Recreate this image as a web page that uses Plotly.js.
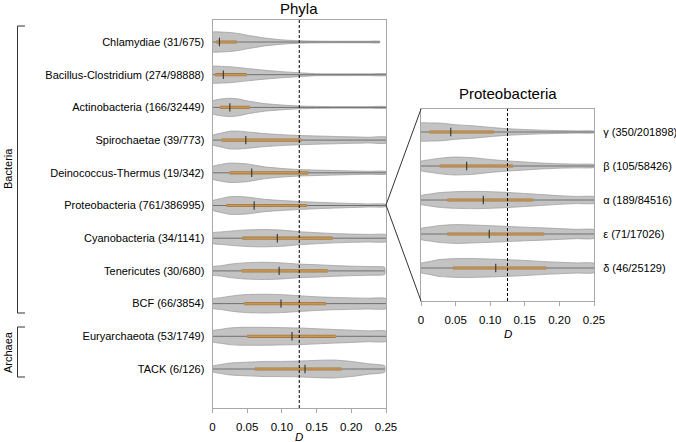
<!DOCTYPE html>
<html>
<head>
<meta charset="utf-8">
<script src="https://cdn.plot.ly/plotly-3.0.1.min.js"></script>
<style>html,body{margin:0;padding:0;background:#fff;}#chart{width:676px;height:442px;}</style>
</head>
<body>
<div id="chart"></div>
<script>
// ---------- DATA ----------
// D grid at which violin densities were read (relative density, same scale for all)
const dGrid = [0, 0.0125, 0.025, 0.0375, 0.05, 0.075, 0.1, 0.125, 0.15, 0.175, 0.2, 0.225, 0.25];

const phylaLabels = ["Chlamydiae (31/675)", "Bacillus-Clostridium (274/98888)", "Actinobacteria (166/32449)",
  "Spirochaetae (39/773)", "Deinococcus-Thermus (19/342)", "Proteobacteria (761/386995)",
  "Cyanobacteria (34/1141)", "Tenericutes (30/680)", "BCF (66/3854)",
  "Euryarchaeota (53/1749)", "TACK (6/126)"];

const densChlamydiae = [9.0, 9.2, 8.8, 7.8, 6.3, 3.7, 2.0, 1.1, 0.8, 0.7, 0.7, 0.7, 0.7];
const densBacillus   = [7.6, 7.7, 7.4, 6.6, 5.7, 4.1, 2.8, 1.8, 0.9, 0.8, 0.8, 0.8, 0.8];
const densActino     = [5.8, 7.8, 8.5, 7.8, 6.0, 3.5, 2.2, 1.3, 0.9, 0.7, 0.7, 0.7, 0.7];
const densSpiro      = [4.2, 6.5, 8.2, 8.3, 7.6, 6.0, 5.0, 4.3, 3.8, 3.4, 3.0, 2.6, 2.8];
const densDeino      = [5.7, 7.8, 9.0, 8.8, 8.2, 5.5, 4.0, 3.0, 2.5, 2.1, 1.7, 1.4, 1.2];
const densProteo     = [4.3, 6.5, 8.2, 8.3, 7.8, 5.7, 4.6, 3.7, 3.0, 2.4, 1.9, 1.4, 1.1];
const densCyano      = [4.8, 5.8, 6.5, 7.2, 7.7, 8.0, 7.5, 6.0, 5.1, 4.3, 3.8, 3.5, 3.2];
const densTeneric    = [3.8, 4.8, 6.2, 7.0, 7.6, 8.0, 7.4, 6.3, 5.7, 5.0, 4.4, 4.0, 3.3];
const densBCF        = [4.2, 5.5, 6.8, 7.8, 8.4, 8.7, 8.3, 7.3, 6.3, 5.7, 5.3, 5.0, 4.7];
const densEury       = [5.0, 6.5, 7.7, 8.2, 8.3, 8.3, 8.0, 7.7, 7.0, 6.3, 5.7, 5.0, 4.7];
const densTACK       = [2.5, 4.2, 5.5, 6.0, 6.3, 7.0, 7.0, 7.3, 8.0, 8.3, 7.0, 4.8, 3.0];
const phylaDensity = [densChlamydiae, densBacillus, densActino, densSpiro, densDeino, densProteo,
  densCyano, densTeneric, densBCF, densEury, densTACK];
const phylaMax    = [0.241, 0.25, 0.25, 0.25, 0.25, 0.25, 0.25, 0.248, 0.25, 0.25, 0.248];
const phylaMedian = [0.010, 0.0156, 0.025, 0.048, 0.0565, 0.060, 0.0934, 0.096, 0.0987, 0.1146, 0.1333];
const phylaQ1     = [0.005, 0.004, 0.011, 0.013, 0.025, 0.020, 0.043, 0.042, 0.046, 0.050, 0.061];
const phylaQ3     = [0.035, 0.049, 0.054, 0.128, 0.138, 0.136, 0.173, 0.166, 0.1635, 0.1775, 0.186];

const proteoLabels = ["γ (350/201898)", "β (105/58426)", "α (189/84516)", "ε (71/17026)", "δ (46/25129)"];
const densGamma   = [8.3, 8.4, 8.3, 7.6, 6.7, 5.7, 4.3, 3.0, 2.3, 1.7, 1.3, 1.0, 0.7];
const densBeta    = [4.3, 5.8, 7.0, 7.9, 8.3, 7.7, 6.0, 4.7, 3.7, 2.7, 2.0, 1.7, 1.3];
const densAlpha   = [4.0, 5.5, 6.7, 7.3, 7.7, 8.0, 7.7, 7.0, 6.0, 5.0, 4.0, 3.3, 3.0];
const densEpsilon = [5.0, 6.5, 7.7, 8.3, 8.7, 8.3, 7.7, 7.0, 6.3, 5.7, 5.0, 4.3, 4.0];
const densDelta   = [4.3, 6.0, 7.7, 8.3, 8.7, 8.7, 8.3, 7.7, 7.0, 6.0, 5.3, 4.7, 4.3];
const proteoDensity = [densGamma, densBeta, densAlpha, densEpsilon, densDelta];
const proteoMax    = [0.25, 0.25, 0.25, 0.25, 0.25];
const proteoMedian = [0.043, 0.066, 0.090, 0.0986, 0.108];
const proteoQ1     = [0.012, 0.027, 0.038, 0.038, 0.046];
const proteoQ3     = [0.105, 0.133, 0.162, 0.178, 0.181];

const threshold = 0.125;
const xTicks = [0, 0.05, 0.10, 0.15, 0.20, 0.25];
const xTickText = ["0", "0.05", "0.10", "0.15", "0.20", "0.25"];

// ---------- DRAWING ----------
const W = 676, H = 442;
const FONT = "Liberation Sans, Arial, Helvetica, sans-serif";
const fillCol = "#c3c3c3", edgeCol = "#a0a0a0", midCol = "#707070";
const iqrOuter = "#a27a45", iqrInner = "#c99550", medCol = "#333";

const traces = [];
function addViolins(dens, maxD, med, q1, q3, scale, xa, ya) {
  dens.forEach((d, i) => {
    const xs = [], ys = [];
    const pts = [];
    for (let k = 0; k < dGrid.length; k++) {
      const x = Math.min(dGrid[k], maxD[i]);
      pts.push([x, d[k] * scale]);
      if (dGrid[k] >= maxD[i]) break;
    }
    pts.forEach(p => { xs.push(p[0]); ys.push(i - p[1]); });
    for (let k = pts.length - 1; k >= 0; k--) { xs.push(pts[k][0]); ys.push(i + pts[k][1]); }
    xs.push(xs[0]); ys.push(ys[0]);
    traces.push({type: "scatter", mode: "lines", x: xs, y: ys, xaxis: xa, yaxis: ya,
      fill: "toself", fillcolor: fillCol, line: {color: edgeCol, width: 0.8, shape: "spline", smoothing: 0.5},
      hoverinfo: "skip", showlegend: false});
    traces.push({type: "scatter", mode: "lines", x: [0, maxD[i]], y: [i, i], xaxis: xa, yaxis: ya,
      line: {color: midCol, width: 1}, hoverinfo: "skip", showlegend: false});
    traces.push({type: "scatter", mode: "lines", x: [q1[i], q3[i]], y: [i, i], xaxis: xa, yaxis: ya,
      line: {color: iqrOuter, width: 3.2}, hoverinfo: "skip", showlegend: false});
    traces.push({type: "scatter", mode: "lines", x: [q1[i], q3[i]], y: [i, i], xaxis: xa, yaxis: ya,
      line: {color: iqrInner, width: 1.6}, hoverinfo: "skip", showlegend: false});
  });
  traces.push({type: "scatter", mode: "markers", x: med, y: med.map((_, i) => i), xaxis: xa, yaxis: ya,
    marker: {symbol: "line-ns", size: 6, line: {color: medCol, width: 1.1}}, hoverinfo: "skip", showlegend: false});
}

// pixel geometry of the two panels
const L = {x0: 212.5, x1: 386, y0: 20, y1: 408};
const R = {x0: 421, x1: 594, y0: 109, y1: 301};
const rowPxL = 32.7, rowPxR = 34, widthGain = 1.08;
addViolins(phylaDensity, phylaMax, phylaMedian, phylaQ1, phylaQ3, widthGain / rowPxL, "x", "y");
addViolins(proteoDensity, proteoMax, proteoMedian, proteoQ1, proteoQ3, widthGain / rowPxR, "x2", "y2");

const px = v => v / W, py = v => 1 - v / H;
const axisCommon = {showgrid: false, zeroline: false, showline: true, mirror: true, linecolor: "#a8a8a8", linewidth: 1};
const xAxisCommon = Object.assign({}, axisCommon, {range: [0, 0.25], tickvals: xTicks, ticktext: xTickText,
  ticks: "outside", ticklen: 4, tickcolor: "#a8a8a8", ticklabelstandoff: 4,
  tickfont: {family: FONT, size: 11.5, color: "#000"}, fixedrange: true});

const layout = {
  width: W, height: H, margin: {l: 0, r: 0, t: 0, b: 0}, paper_bgcolor: "#fff", plot_bgcolor: "#fff",
  showlegend: false,
  xaxis: Object.assign({}, xAxisCommon, {domain: [px(L.x0), px(L.x1)], anchor: "y"}),
  yaxis: Object.assign({}, axisCommon, {domain: [py(L.y1), py(L.y0)], anchor: "x",
    range: [10 + (L.y1 - 369) / rowPxL, -(42 - L.y0) / rowPxL],
    tickvals: phylaLabels.map((_, i) => i), ticktext: phylaLabels, ticks: "", ticklabelstandoff: 5,
    tickfont: {family: FONT, size: 11, color: "#000"}}),
  xaxis2: Object.assign({}, xAxisCommon, {domain: [px(R.x0), px(R.x1)], anchor: "y2"}),
  yaxis2: Object.assign({}, axisCommon, {domain: [py(R.y1), py(R.y0)], anchor: "x2", side: "right",
    range: [4 + (R.y1 - 268) / rowPxR, -(132 - R.y0) / rowPxR],
    tickvals: proteoLabels.map((_, i) => i), ticktext: proteoLabels, ticks: "", ticklabelstandoff: 6,
    tickfont: {family: FONT, size: 11, color: "#000"}}),
  shapes: [
    {type: "line", xref: "x", yref: "y domain", x0: threshold, x1: threshold, y0: 0, y1: 1,
      line: {color: "#000", width: 1, dash: "3px,2px"}},
    {type: "line", xref: "x2", yref: "y2 domain", x0: threshold, x1: threshold, y0: 0, y1: 1,
      line: {color: "#000", width: 1, dash: "3px,2px"}},
    // zoom connectors
    {type: "line", xref: "paper", yref: "paper", x0: px(386), y0: py(205), x1: px(421), y1: py(109), line: {color: "#333", width: 1}},
    {type: "line", xref: "paper", yref: "paper", x0: px(386), y0: py(205), x1: px(421), y1: py(301), line: {color: "#333", width: 1}},
    // Bacteria bracket
    {type: "path", xref: "paper", yref: "paper",
      path: `M ${px(25)} ${py(26)} L ${px(17.5)} ${py(26)} L ${px(17.5)} ${py(313)} L ${px(25)} ${py(313)}`,
      line: {color: "#333", width: 1}},
    // Archaea bracket
    {type: "path", xref: "paper", yref: "paper",
      path: `M ${px(25)} ${py(327)} L ${px(17.5)} ${py(327)} L ${px(17.5)} ${py(377)} L ${px(25)} ${py(377)}`,
      line: {color: "#333", width: 1}}
  ],
  annotations: [
    {text: "Phyla", xref: "paper", yref: "paper", x: px(299), y: py(8), showarrow: false,
      font: {family: FONT, size: 15, color: "#000"}, xanchor: "center", yanchor: "middle"},
    {text: "Proteobacteria", xref: "paper", yref: "paper", x: px(508), y: py(93), showarrow: false,
      font: {family: FONT, size: 15, color: "#000"}, xanchor: "center", yanchor: "middle"},
    {text: "<i>D</i>", xref: "paper", yref: "paper", x: px(299), y: py(437), showarrow: false,
      font: {family: FONT, size: 11.5, color: "#000"}, xanchor: "center", yanchor: "middle"},
    {text: "<i>D</i>", xref: "paper", yref: "paper", x: px(508), y: py(334), showarrow: false,
      font: {family: FONT, size: 11.5, color: "#000"}, xanchor: "center", yanchor: "middle"},
    {text: "Bacteria", xref: "paper", yref: "paper", x: px(8), y: py(169), textangle: -90, showarrow: false,
      font: {family: FONT, size: 11, color: "#000"}, xanchor: "center", yanchor: "middle"},
    {text: "Archaea", xref: "paper", yref: "paper", x: px(8), y: py(352), textangle: -90, showarrow: false,
      font: {family: FONT, size: 11, color: "#000"}, xanchor: "center", yanchor: "middle"}
  ]
};

Plotly.newPlot("chart", traces, layout, {staticPlot: true, displayModeBar: false});
</script>
</body>
</html>
